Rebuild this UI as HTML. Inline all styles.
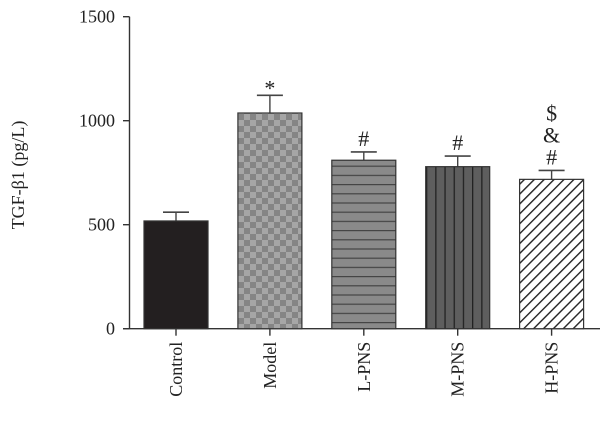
<!DOCTYPE html>
<html><head><meta charset="utf-8"><style>
body{margin:0;background:#fff}
svg text{font-family:"Liberation Serif",serif;fill:#222}
</style></head><body>
<svg width="600" height="433" viewBox="0 0 600 433">
<defs>
<pattern id="pCheck" width="12" height="12" patternUnits="userSpaceOnUse" x="238" y="0">
<rect width="12" height="12" fill="#858585"/><rect width="6" height="6" fill="#a6a6a6"/><rect x="6" y="6" width="6" height="6" fill="#a6a6a6"/></pattern>
<pattern id="pHoriz" width="10" height="9.2" patternUnits="userSpaceOnUse">
<rect width="10" height="9.2" fill="#8a8a8a"/><rect y="0" width="10" height="1.2" fill="#444"/></pattern>
<pattern id="pVert" width="9.2" height="10" patternUnits="userSpaceOnUse" x="426">
<rect width="9.2" height="10" fill="#5e5e5e"/><rect x="0" width="1.3" height="10" fill="#222"/></pattern>
<pattern id="pDiag" width="7" height="7" patternUnits="userSpaceOnUse" patternTransform="rotate(45)">
<rect width="7" height="7" fill="#fff"/><rect width="1.4" height="7" fill="#222"/></pattern>
</defs>
<g id="chart"></g>
</svg>
<script>
const categories=["Control","Model","L-PNS","M-PNS","H-PNS"];
const values=[518,1037,810,779,718];
const errors=[42,85,40,51,43];
const annotations=[[],["*"],["#"],["#"],["#","&","$"]];
const yTicks=[0,500,1000,1500];
const fills=["#231f20","url(#pCheck)","url(#pHoriz)","url(#pVert)","url(#pDiag)"];
const NS="http://www.w3.org/2000/svg";
const g=document.getElementById("chart");
const y0=328.7,pxPer=104/500;
const y=v=>y0-v*pxPer;
const x=i=>176+i*93.9;
const bw=64;
function mk(t,a,p){const e=document.createElementNS(NS,t);for(const k in a)e.setAttribute(k,a[k]);(p||g).appendChild(e);return e;}
// axes
const ya=mk("line",{x1:129.5,y1:y(1500),x2:129.5,y2:y0,stroke:"#333","stroke-width":1.4});


const xa=mk("line",{x1:123,y1:y0,x2:600,y2:y0,stroke:"#333","stroke-width":1.4});


yTicks.forEach(t=>{
 mk("line",{x1:123,y1:y(t),x2:129.5,y2:y(t),stroke:"#333","stroke-width":1.4});
 const tx=mk("text",{x:115,y:y(t)+6,"text-anchor":"end","font-size":"18"});
 tx.textContent=t;
 
 
});
const yl=mk("text",{x:0,y:0,"text-anchor":"middle","font-size":"18",transform:"translate(24,175) rotate(-90)"});
yl.textContent="TGF-β1 (pg/L)";


categories.forEach((c,i)=>{
 const cx=x(i);
 const top=y(values[i]),et=y(values[i]+errors[i]);
 mk("line",{x1:cx,y1:top,x2:cx,y2:et,stroke:"#444","stroke-width":1.4});
 mk("line",{x1:cx-13,y1:et,x2:cx+13,y2:et,stroke:"#444","stroke-width":1.6});
 const b=mk("rect",{x:cx-bw/2,y:top,width:bw,height:y0-top,fill:fills[i],stroke:"#333","stroke-width":1.2});
 
 
 mk("line",{x1:cx,y1:y0,x2:cx,y2:y0+7,stroke:"#333","stroke-width":1.4});
 const lb=mk("text",{x:0,y:0,"text-anchor":"end","font-size":"18",transform:`translate(${cx+6},${y0+13}) rotate(-90)`});
 lb.textContent=c;
 
 
 annotations[i].forEach((a,k)=>{
  const at=mk("text",{x:cx,y:et-6-k*22+(a==="*"?6:0),"text-anchor":"middle","font-size":"22"});
  at.textContent=a;
  
  
 });
});
</script>
</body></html>
